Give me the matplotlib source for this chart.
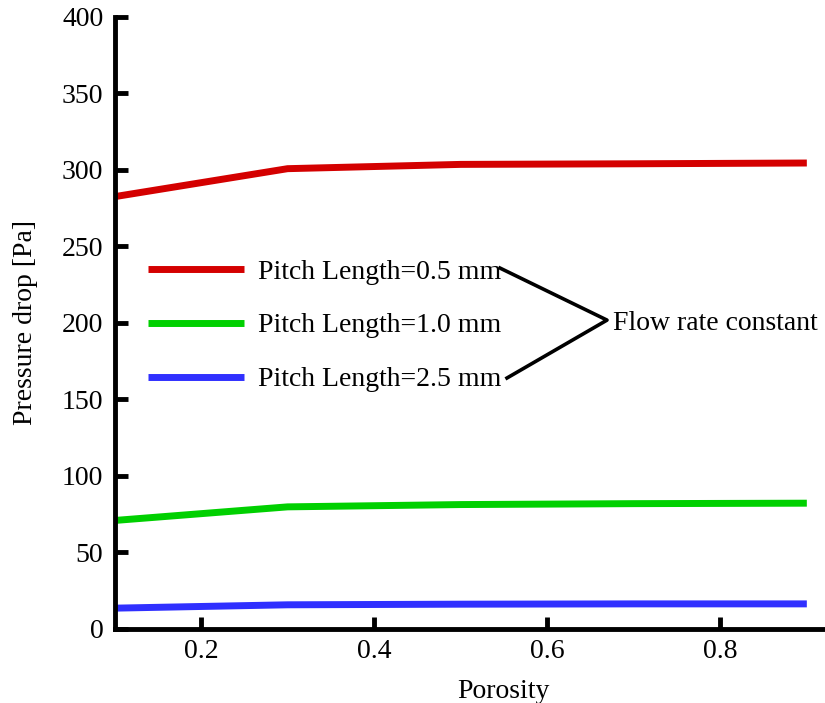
import matplotlib.pyplot as plt

plt.rcParams["font.family"] = ["Liberation Serif", "DejaVu Serif"]
plt.rcParams["font.size"] = 20

# Data
porosity = [0.1, 0.3, 0.5, 0.7, 0.9]
dp_pitch_05 = [282.5, 300.8, 303.6, 304.0, 304.5]
dp_pitch_10 = [70.9, 79.8, 81.3, 81.9, 82.2]
dp_pitch_25 = [13.6, 15.8, 16.2, 16.4, 16.4]

labels = ["Pitch Length=0.5 mm", "Pitch Length=1.0 mm", "Pitch Length=2.5 mm"]
colors = ["#d40000", "#00d000", "#3030ff"]

fig = plt.figure(figsize=(8.25, 7.03), dpi=100)
ax = fig.add_axes([0.1388, 0.1053, 0.8612, 0.8707])

for series, lab, col in zip([dp_pitch_05, dp_pitch_10, dp_pitch_25], labels, colors):
    ax.plot(porosity, series, color=col, lw=5, label=lab, solid_capstyle="butt")

ax.set_xlim(0.1, 0.921)
ax.set_ylim(0, 400)
ax.set_xticks([0.2, 0.4, 0.6, 0.8])
ax.set_yticks(range(0, 401, 50))

for side in ["top", "right"]:
    ax.spines[side].set_visible(False)
for side in ["left", "bottom"]:
    ax.spines[side].set_linewidth(3.5)

ax.tick_params(direction="in", length=9, width=3.5, labelsize=20)
ax.tick_params(axis="y", pad=8)
ax.tick_params(axis="x", pad=7)

ax.set_xlabel("Porosity", fontsize=20)
ax.xaxis.set_label_coords(0.548, -0.082)
ax.set_ylabel("Pressure drop [Pa]", fontsize=20, labelpad=17)

leg = ax.legend(loc="upper left", bbox_to_anchor=(0.047, 0.604), frameon=False,
                borderpad=0, borderaxespad=0, handlelength=3.45,
                handletextpad=0.5, labelspacing=1.02, fontsize=20)

# bracket grouping the three cases
ax.plot([0.5426, 0.6932, 0.5524], [0.5896, 0.5046, 0.4100], color="black",
        lw=2.6, transform=ax.transAxes, clip_on=False)
ax.text(0.7016, 0.4998, "Flow rate constant", transform=ax.transAxes,
        ha="left", va="center", fontsize=20)

fig.savefig("out.png", dpi=100)
